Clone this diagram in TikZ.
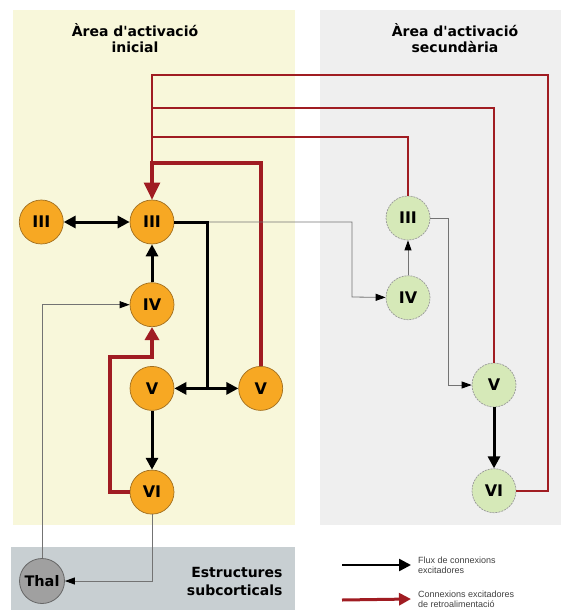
\documentclass[tikz,border=0pt]{standalone}
\usepackage{fontspec}
\setmainfont{Liberation Sans}
\newfontfamily\heavyfont{DejaVu Sans}
\usepackage{tikz}
\usetikzlibrary{arrows.meta,positioning}
\definecolor{cellorange}{RGB}{247,168,35}
\definecolor{cellrim}{RGB}{160,110,30}
\definecolor{cellgreen}{RGB}{214,233,184}
\definecolor{thalgray}{RGB}{160,160,160}
\definecolor{panelyellow}{RGB}{248,247,218}
\definecolor{panelgray}{RGB}{239,239,239}
\definecolor{panelblue}{RGB}{200,207,210}
\definecolor{fbred}{RGB}{160,28,34}
\tikzset{
  orangecell/.style={circle,draw=cellrim,fill=cellorange,line width=0.7pt,
    minimum size=44pt,inner sep=0pt,font=\heavyfont\bfseries\fontsize{16}{16}\selectfont},
  greencell/.style={circle,draw=gray!80,dashed,dash pattern=on 2pt off 1pt,fill=cellgreen,
    line width=0.7pt,minimum size=44pt,inner sep=0pt,
    font=\heavyfont\bfseries\fontsize{16}{16}\selectfont},
  thalcell/.style={circle,draw=black!60,fill=thalgray,line width=0.8pt,
    minimum size=45pt,inner sep=0pt,font=\heavyfont\bfseries\fontsize{14.5}{14.5}\selectfont},
  flow/.style={-{Triangle[width=12pt,length=12pt]},line width=3pt},
  bothflow/.style={{Triangle[width=12pt,length=12pt]}-{Triangle[width=12pt,length=12pt]},line width=3pt},
  thinflow/.style={-{Triangle[width=7pt,length=10pt,color=black]},draw=gray!90!black,line width=0.8pt},
  fbline/.style={draw=fbred,line width=2.2pt},
  fbthick/.style={draw=fbred,line width=4pt},
  paneltitle/.style={font=\heavyfont\bfseries\fontsize{14}{16}\selectfont,align=center},
  legtext/.style={font=\fontsize{9}{10}\selectfont,text=black!75,align=left,anchor=west,inner sep=0pt},
}

\begin{document}
\begin{tikzpicture}[x=1pt,y=-1pt]
  \useasboundingbox (0,0) rectangle (561,610);
  % panels
  \fill[panelyellow] (13,10) rectangle (295,525);
  \fill[panelgray]   (320,10) rectangle (561,525);
  \fill[panelblue]   (11,547) rectangle (295,610);
  \node[paneltitle] (titleA) at (135,38) {Àrea d'activació\\inicial};
  \node[paneltitle] (titleB) at (455,38) {Àrea d'activació\\secundària};
  \node[paneltitle,align=right,anchor=east,font=\heavyfont\bfseries\fontsize{14}{18}\selectfont]
    (subc) at (286,581) {Estructures\\subcorticals};

  % initial area
  \node[orangecell] (iii1) at (152,222) {III};
  \node[orangecell, left=66pt of iii1]  (iiiL) {III};
  \node[orangecell, below=38pt of iii1] (iv1)  {IV};
  \node[orangecell, below=39pt of iv1]  (v1)   {V};
  \node[orangecell, right=64pt of v1]   (v1r)  {V};
  \node[orangecell, below=59pt of v1]   (vi1)  {VI};
  % secondary area
  \node[greencell] (iii2) at (408,218) {III};
  \node[greencell, below=35pt of iii2]  (iv2) {IV};
  \node[greencell] (v2) at (494,385) {V};
  \node[greencell, below=61pt of v2]    (vi2) {VI};
  % subcortical
  \node[thalcell] (thal) at (42,581) {Thal};

  \coordinate (fbA)  at (548,75);
  \coordinate (busB) at (152,108);
  \coordinate (busC) at (152,137);
  \coordinate (busD) at (152,163);
  \coordinate (turnA) at (110,357);
  \coordinate (junc) at (207,387);
  \coordinate (tapB) at (352,297);
  \coordinate (tapC) at (448,385);

  % feedback connections
  \draw[fbline] (v2.north) |- (busB);
  \draw[fbline] (iii2.north) |- (busC);
  \draw[fbthick] (v1r.north) |- (busD) -- ([yshift=12pt]iii1.north);
  \draw[fbline,-{Triangle[width=16pt,length=17pt]}] (vi2.east) -| (fbA) -| (iii1.north);
  \draw[fbthick,-{Triangle[width=14pt,length=13pt]}] (vi1.west) -| (turnA) -| (iv1.south);

  % thin connections
  \draw[thinflow] (iii1.east) -| (tapB) -- (iv2);
  \draw[thinflow] (iv2) -- (iii2);
  \draw[thinflow] (iii2.east) -| (tapC) -- (v2);
  \draw[thinflow] (thal.north) |- (iv1.west);
  \draw[thinflow] (vi1.south) |- (thal.east);

  % excitatory flow
  \draw[bothflow] (iiiL) -- (iii1);
  \draw[flow] (iv1) -- (iii1);
  \draw[line width=3pt] (iii1.east) -| (junc);
  \draw[bothflow] (v1) -- (v1r);
  \draw[flow] (v1) -- (vi1);
  \draw[flow] (v2) -- (vi2);

  % legend
  \coordinate (lgA) at (342,565);
  \coordinate (lgB) at (342,600);
  \node[legtext] (legA) at (418,565) {Flux de connexions\\excitadores};
  \node[legtext] (legB) at (418,599) {Connexions excitadores\\de retroalimentació};
  \draw[flow,line width=2.5pt] (lgA) -- ([xshift=-7pt]legA.west);
  \draw[fbline,line width=3pt,-{Triangle[width=12pt,length=12pt]}] (lgB) -- ([xshift=-7pt]legB.west);
\end{tikzpicture}
\end{document}
